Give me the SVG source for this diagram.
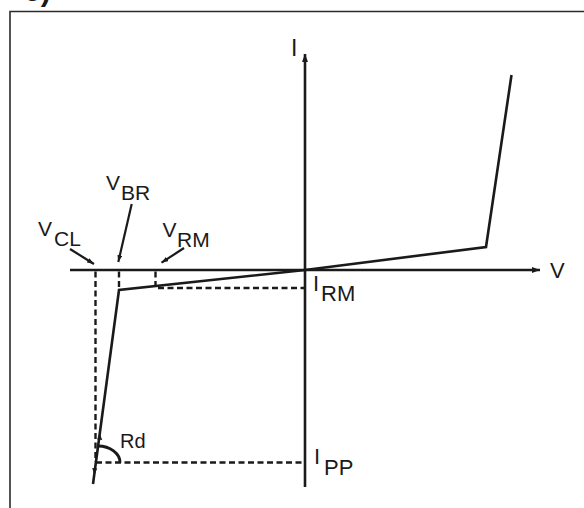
<svg xmlns="http://www.w3.org/2000/svg" width="584" height="508" viewBox="0 0 584 508">
<style>
.frame{fill:none;stroke:#2b2b2b;stroke-width:1.6}
.ln{fill:none;stroke:#1a1a1a;stroke-width:2.6;stroke-linejoin:miter}
.dash{fill:none;stroke:#1a1a1a;stroke-width:2.4;stroke-dasharray:6 3.5}
.lbl{fill:#1a1a1a;stroke:none;font-family:"Liberation Sans",Arial,sans-serif;font-size:21px}
.thin{fill:none;stroke:#1a1a1a;stroke-width:2.2}
</style>
<defs>
<marker id="ah" viewBox="0 0 8 6" refX="8" refY="3" markerWidth="8" markerHeight="6" markerUnits="userSpaceOnUse" orient="auto">
<path d="M0,0 L8,3 L0,6 Z" fill="#1a1a1a"/>
</marker>
<marker id="ahs" viewBox="0 0 7 5" refX="7" refY="2.5" markerWidth="7" markerHeight="5" markerUnits="userSpaceOnUse" orient="auto">
<path d="M0,0 L7,2.5 L0,5 Z" fill="#1a1a1a"/>
</marker>
</defs>
<rect width="584" height="508" fill="#ffffff"/>
<g id="title">
<text x="24" y="1" style="font-family:'Liberation Sans',Arial,sans-serif;font-size:30px;font-weight:bold;fill:#1a1a1a">c)</text>
</g>
<g id="frame">
<path class="frame" d="M10,508 L10,11.5 L584,11.5"/>
</g>
<g id="axes">
<line class="ln" x1="305" y1="487" x2="305" y2="54" marker-end="url(#ah)"/>
<line class="ln" x1="70" y1="270" x2="540" y2="270" marker-end="url(#ah)"/>
</g>
<g id="curve">
<polyline class="ln" points="511.5,75 486,247 305,270 119,290 93,484"/>
</g>
<g id="dashed">
<line class="dash" x1="95.5" y1="271.5" x2="95.5" y2="462"/>
<line class="dash" x1="119" y1="271.5" x2="119" y2="290"/>
<line class="dash" x1="155.5" y1="271.5" x2="155.5" y2="286"/>
<line class="dash" x1="158" y1="288" x2="305" y2="288"/>
<line class="dash" x1="96" y1="462.5" x2="305" y2="462.5"/>
</g>
<g id="rd">
<path d="M98,446 A22,16.5 0 0 1 120,462.5" fill="none" stroke="#1a1a1a" stroke-width="3"/>
<path d="M99.6,433 L102.2,440 L97.2,439.5 Z" fill="#1a1a1a"/>
<path d="M94.3,475 L92.2,468 L97.2,468.5 Z" fill="#1a1a1a"/>
</g>
<g id="connectors">
<line class="thin" x1="70" y1="249" x2="94" y2="264" marker-end="url(#ahs)"/>
<line class="thin" x1="131.7" y1="204" x2="118.3" y2="262" marker-end="url(#ahs)"/>
<line class="thin" x1="184" y1="248" x2="161.5" y2="262.7" marker-end="url(#ahs)"/>
</g>
<g id="labels">
<text class="lbl" style="font-size:23px" x="291" y="56">I</text>
<text class="lbl" style="font-size:22px" x="550" y="278">V</text>
<text class="lbl"><tspan x="106" y="190">V</tspan><tspan x="121" y="200">BR</tspan></text>
<text class="lbl"><tspan x="38" y="236">V</tspan><tspan x="54" y="246">CL</tspan></text>
<text class="lbl"><tspan x="162.5" y="236.5">V</tspan><tspan x="177" y="246.5">RM</tspan></text>
<text class="lbl" style="font-size:22px"><tspan x="313" y="291">I</tspan><tspan x="321" y="301">RM</tspan></text>
<text class="lbl" style="font-size:22px"><tspan x="314" y="464">I</tspan><tspan x="324" y="475">PP</tspan></text>
<text class="lbl" style="font-size:20px" x="120" y="448">Rd</text>
</g>
</svg>
